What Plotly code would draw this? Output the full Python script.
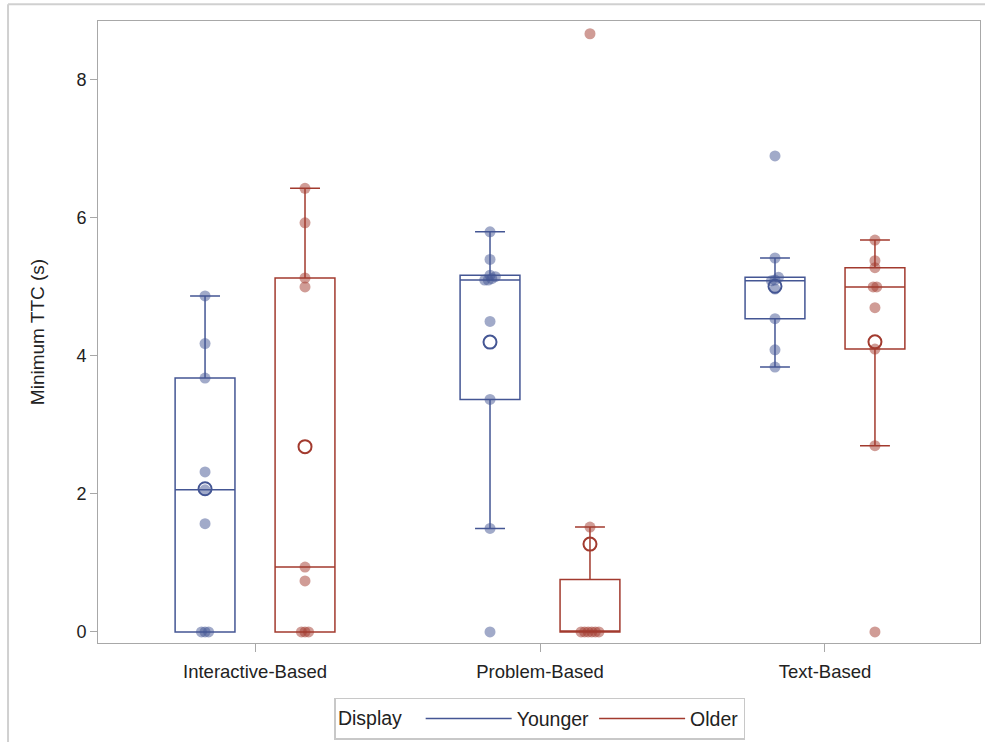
import numpy as np
import plotly.graph_objects as go

# ---------------- data ----------------
categories = ["Interactive-Based", "Problem-Based", "Text-Based"]
groups = ["Younger", "Older"]

younger_interactive = [0, 0, 0, 1.57, 2.06, 2.32, 3.68, 4.18, 4.87]
younger_problem = [0, 1.50, 3.37, 4.50, 5.10, 5.10, 5.12, 5.15, 5.17, 5.40, 5.80]
younger_text = [3.84, 4.09, 4.54, 4.97, 5.09, 5.10, 5.14, 5.42, 6.90]

older_interactive = [0, 0, 0, 0.74, 0.94, 5.00, 5.13, 5.93, 6.43]
older_problem = [0, 0, 0, 0, 0, 0, 1.52, 8.67]
older_text = [0, 2.70, 4.10, 4.70, 5.00, 5.00, 5.28, 5.38, 5.68]

series = {
    "Younger": [younger_interactive, younger_problem, younger_text],
    "Older": [older_interactive, older_problem, older_text],
}

line_colors = {"Younger": "#445694", "Older": "#A23A2E"}
point_colors = {"Younger": "rgba(68,86,148,0.5)", "Older": "rgba(162,58,46,0.5)"}
offsets = {"Younger": -0.1754, "Older": 0.1754}
BOX_W = 0.21
JITTER_STEP = 0.0125      # horizontal spread between overlapping points
OVERLAP_TOL = 0.06        # values closer than this are treated as overlapping
FONT = "Liberation Sans, Arial, sans-serif"
TXT = "#222222"


def box_stats(vals):
    v = np.asarray(vals, dtype=float)
    q1, med, q3 = np.percentile(v, [25, 50, 75], method="averaged_inverted_cdf")
    iqr = q3 - q1
    lo = v[v >= q1 - 1.5 * iqr].min()
    hi = v[v <= q3 + 1.5 * iqr].max()
    return q1, med, q3, lo, hi, v.mean()


def jitter_offsets(vals):
    """Spread only overlapping values sideways (like SAS JITTER)."""
    v = np.sort(np.asarray(vals, dtype=float))
    clusters, cur = [], [0]
    for k in range(1, len(v)):
        if v[k] - v[cur[0]] <= OVERLAP_TOL:
            cur.append(k)
        else:
            clusters.append(cur)
            cur = [k]
    clusters.append(cur)
    off = np.zeros(len(v))
    for c in clusters:
        n = len(c)
        for r, k in enumerate(c):
            off[k] = (r - (n - 1) / 2) * JITTER_STEP
    return v, off


fig = go.Figure()

for g in groups:
    for i, vals in enumerate(series[g]):
        q1, med, q3, lo, hi, mean = box_stats(vals)
        xpos = i + offsets[g]
        fig.add_trace(go.Box(
            x=[xpos],
            q1=[q1], median=[med], q3=[q3],
            lowerfence=[lo], upperfence=[hi],
            width=BOX_W, whiskerwidth=0.5, boxpoints=False,
            line=dict(color=line_colors[g], width=1.5),
            fillcolor="rgba(0,0,0,0)",
            showlegend=False, name=g, hoverinfo="skip",
        ))

for g in groups:
    for i, vals in enumerate(series[g]):
        v, off = jitter_offsets(vals)
        fig.add_trace(go.Scatter(
            x=i + offsets[g] + off, y=v, mode="markers",
            marker=dict(color=point_colors[g], size=11, line=dict(width=0)),
            showlegend=False, name=g,
        ))

for g in groups:
    fig.add_trace(go.Scatter(
        x=[i + offsets[g] for i in range(len(categories))],
        y=[float(np.mean(v)) for v in series[g]],
        mode="markers",
        marker=dict(symbol="circle-open", size=13, color=line_colors[g],
                    line=dict(width=2, color=line_colors[g])),
        showlegend=False, name=g + " mean",
    ))

# legend entries (lines)
for g in groups:
    fig.add_trace(go.Scatter(
        x=[None], y=[None], mode="lines", name=g,
        line=dict(color=line_colors[g], width=1.5),
    ))

axis_line = "#a8a8a8"
fig.update_xaxes(
    range=[-0.551, 2.544], tickmode="array", tickvals=list(range(len(categories))),
    ticktext=categories, showline=True, linecolor=axis_line, linewidth=1, mirror=True,
    ticks="outside", ticklen=8, tickcolor=axis_line, showgrid=False, zeroline=False,
    tickfont=dict(family=FONT, size=18.5, color=TXT), ticklabelstandoff=4,
)
fig.update_yaxes(
    range=[-0.16, 8.855], tickmode="array", tickvals=[0, 2, 4, 6, 8],
    showline=True, linecolor=axis_line, linewidth=1, mirror=True,
    ticks="outside", ticklen=7, tickcolor=axis_line, showgrid=False, zeroline=False,
    tickfont=dict(family=FONT, size=18, color=TXT),
    title=dict(text="Minimum TTC (s)", font=dict(family=FONT, size=19, color=TXT), standoff=26),
)

fig.update_layout(
    width=985, height=742,
    margin=dict(l=98, r=5, t=21, b=99, autoexpand=False),
    paper_bgcolor="white", plot_bgcolor="white",
    font=dict(family=FONT, color=TXT),
    legend=dict(
        orientation="h", x=0.501, xanchor="center", y=-0.088, yanchor="top",
        bordercolor="#c8c8c8", borderwidth=1.5,
        title=dict(text="Display  ", font=dict(family=FONT, size=19.5, color=TXT)),
        font=dict(family=FONT, size=19.5, color=TXT),
        itemwidth=86, tracegroupgap=0,
    ),
    shapes=[
        dict(type="line", xref="paper", yref="paper", x0=-0.102, x1=1.01, y0=1.027, y1=1.027,
             line=dict(color="#d0d0d0", width=2)),
        dict(type="line", xref="paper", yref="paper", x0=-0.102, x1=-0.102, y0=1.027, y1=-0.2,
             line=dict(color="#d0d0d0", width=2)),
    ],
)

fig.write_html("out.html")
